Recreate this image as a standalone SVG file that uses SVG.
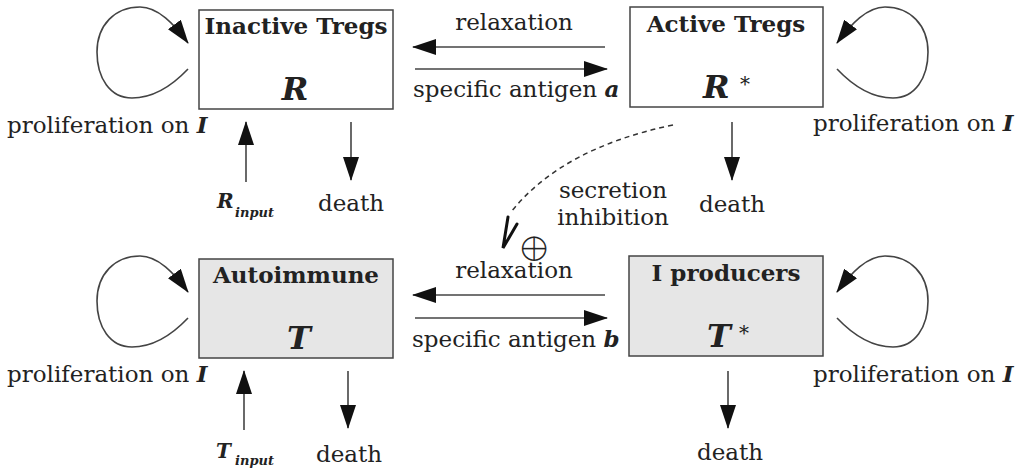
<svg xmlns="http://www.w3.org/2000/svg" width="1026" height="472" viewBox="0 0 1026 472">
<defs>
<marker id="ah" viewBox="0 0 24 16" refX="23" refY="8" markerWidth="24" markerHeight="16" orient="auto" markerUnits="userSpaceOnUse"><path d="M0,0 L24,8 L0,16 z" fill="#111"/></marker>
<style>
text{font-family:"DejaVu Serif","Liberation Serif",serif;fill:#222;font-size:23px}
.h{font-weight:bold}
.v{font-weight:bold;font-style:italic;font-size:32px}
.bi{font-weight:bold;font-style:italic}
.in{font-weight:bold;font-style:italic;font-size:20px}
.sup{font-size:20px;font-weight:normal;font-style:normal}
.sub{font-size:13px;font-weight:bold;font-style:italic}
.op{font-size:42px;stroke:#fff;stroke-width:1.6}
.box{stroke:#444;stroke-width:1.5}
.w{fill:#fff}
.g{fill:#e6e6e6}
.c{fill:none;stroke:#444;stroke-width:1.6;marker-end:url(#ah)}
.d{fill:none;stroke:#333;stroke-width:1.5;stroke-dasharray:5 4}
.vh{fill:none;stroke:#111;stroke-width:3;stroke-linejoin:miter;stroke-linecap:round}
</style>
</defs>
<rect width="1026" height="472" fill="#fff"/>
<g id="connectors">
<path class="c" d="M188,69 C170,88 150,98 132,98 C110,98 97,78 97,52 C97,25 115,7 140,7 C158,7 174,24 188,43"/>
<path class="c" d="M837,69 C855,88 875,98 893,98 C915,98 928,78 928,52 C928,25 910,7 885,7 C867,7 851,24 837,43"/>
<path class="c" d="M188,318 C170,337 150,347 132,347 C110,347 97,327 97,301 C97,274 115,256 140,256 C158,256 174,273 188,292"/>
<path class="c" d="M837,318 C855,337 875,347 893,347 C915,347 928,327 928,301 C928,274 910,256 885,256 C867,256 851,273 837,292"/>
<path class="c" d="M605,47 L413,47"/>
<path class="c" d="M415,69 L607,69"/>
<path class="c" d="M605,295 L413,295"/>
<path class="c" d="M415,318 L607,318"/>
<path class="c" d="M246,182 L246,122"/>
<path class="c" d="M351,122 L351,180"/>
<path class="c" d="M732,122 L732,180"/>
<path class="c" d="M244,430 L244,371"/>
<path class="c" d="M348,371 L348,428"/>
<path class="c" d="M728,371 L728,428"/>
<path class="d" d="M673,125 Q562,148 511,212"/>
<path class="vh" d="M508,217 L503,248 L517,224"/>
</g>
<g id="node-R">
<rect class="box w" x="199" y="10" width="194" height="99"/>
<text class="h" x="296" y="34" text-anchor="middle">Inactive Tregs</text>
<text class="v" x="295" y="100" text-anchor="middle">R</text>
</g>
<g id="node-Rstar">
<rect class="box w" x="630" y="7" width="193" height="100"/>
<text class="h" x="726" y="32" text-anchor="middle">Active Tregs</text>
<text class="v" x="703" y="98">R<tspan class="sup" x="740" y="91">*</tspan></text>
</g>
<g id="node-T">
<rect class="box g" x="199" y="259" width="194" height="99"/>
<text class="h" x="296" y="283" text-anchor="middle">Autoimmune</text>
<text class="v" x="299" y="349" text-anchor="middle">T</text>
</g>
<g id="node-Tstar">
<rect class="box g" x="629" y="256" width="194" height="100"/>
<text class="h" x="726" y="281" text-anchor="middle">I producers</text>
<text class="v" x="707" y="347">T<tspan class="sup" x="739" y="340">*</tspan></text>
</g>
<g id="labels">
<text x="514" y="30" text-anchor="middle">relaxation</text>
<text x="413" y="97">specific antigen <tspan class="bi">a</tspan></text>
<text x="514" y="278" text-anchor="middle">relaxation</text>
<text x="412" y="347">specific antigen <tspan class="bi">b</tspan></text>
<text x="7" y="133">proliferation on <tspan class="bi">I</tspan></text>
<text x="813" y="131">proliferation on <tspan class="bi">I</tspan></text>
<text x="7" y="382">proliferation on <tspan class="bi">I</tspan></text>
<text x="813" y="382">proliferation on <tspan class="bi">I</tspan></text>
<text class="in" x="217" y="208">R<tspan class="sub" x="235" y="217">input</tspan></text>
<text class="in" x="216" y="458">T<tspan class="sub" x="235" y="465">input</tspan></text>
<text x="318" y="211">death</text>
<text x="699" y="212">death</text>
<text x="316" y="462">death</text>
<text x="697" y="460">death</text>
<text x="613" y="198" text-anchor="middle">secretion</text>
<text x="613" y="225" text-anchor="middle">inhibition</text>
<text class="op" x="534" y="262" text-anchor="middle">⊕</text>
</g>
</svg>
